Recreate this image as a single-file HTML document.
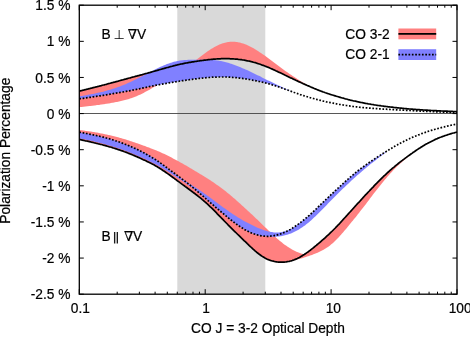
<!DOCTYPE html>
<html><head><meta charset="utf-8"><title>Polarization Percentage vs CO J = 3-2 Optical Depth</title>
<style>html,body{margin:0;padding:0;background:#fff}svg{display:block}text{stroke:#000;stroke-width:0.2px}text.par{stroke:none}</style></head>
<body>
<svg width="470" height="337" viewBox="0 0 470 337" font-family="'Liberation Sans', sans-serif" font-size="13.75" fill="#000">
<rect width="470" height="337" fill="#fff"/>
<rect x="177.3" y="5.2" width="88.0" height="289.0" fill="#d9d9d9"/>
<path d="M79.0,91.2 L80.0,91.0 L81.0,90.7 L82.0,90.5 L83.0,90.2 L84.0,89.9 L85.0,89.7 L86.0,89.4 L87.0,89.2 L88.0,88.9 L89.0,88.7 L90.0,88.4 L91.0,88.2 L92.0,87.9 L93.0,87.7 L94.0,87.4 L95.0,87.2 L96.0,86.9 L97.0,86.7 L98.0,86.4 L99.0,86.1 L100.0,85.9 L101.0,85.6 L102.0,85.4 L103.0,85.1 L104.0,84.9 L105.0,84.6 L106.0,84.3 L107.0,84.1 L108.0,83.8 L109.0,83.5 L110.0,83.3 L111.0,83.0 L112.0,82.8 L113.0,82.5 L114.0,82.2 L115.0,82.0 L116.0,81.7 L117.0,81.4 L118.0,81.1 L119.0,80.9 L120.0,80.6 L121.0,80.3 L122.0,80.0 L123.0,79.8 L124.0,79.5 L125.0,79.2 L126.0,78.9 L127.0,78.7 L128.0,78.4 L129.0,78.1 L130.0,77.8 L131.0,77.6 L132.0,77.3 L133.0,77.0 L134.0,76.8 L135.0,76.5 L136.0,76.2 L137.0,76.0 L138.0,75.7 L139.0,75.4 L140.0,75.2 L141.0,74.9 L142.0,74.6 L143.0,74.4 L144.0,74.1 L145.0,73.8 L146.0,73.6 L147.0,73.3 L148.0,73.0 L149.0,72.7 L150.0,72.4 L151.0,72.2 L152.0,71.9 L153.0,71.6 L154.0,71.3 L155.0,71.0 L156.0,70.7 L157.0,70.5 L158.0,70.2 L159.0,69.9 L160.0,69.6 L161.0,69.3 L162.0,69.0 L163.0,68.7 L164.0,68.5 L165.0,68.2 L166.0,67.9 L167.0,67.6 L168.0,67.3 L169.0,67.1 L170.0,66.8 L171.0,66.5 L172.0,66.3 L173.0,66.0 L174.0,65.7 L175.0,65.5 L176.0,65.2 L177.0,65.0 L178.0,64.8 L179.0,64.5 L180.0,64.3 L181.0,64.1 L182.0,63.9 L183.0,63.6 L184.0,63.4 L185.0,63.2 L186.0,63.0 L187.0,62.9 L188.0,62.7 L189.0,62.5 L190.0,62.3 L191.0,62.2 L192.0,62.0 L193.0,61.8 L194.0,61.7 L195.0,61.5 L196.0,61.4 L197.0,61.2 L198.0,61.1 L199.0,60.9 L200.0,60.8 L201.0,60.7 L202.0,60.5 L203.0,60.4 L204.0,60.3 L205.0,60.1 L206.0,60.0 L207.0,59.9 L208.0,59.8 L209.0,59.7 L210.0,59.6 L211.0,59.5 L212.0,59.4 L213.0,59.3 L214.0,59.2 L215.0,59.1 L216.0,59.0 L217.0,59.0 L218.0,58.9 L219.0,58.8 L220.0,58.8 L221.0,58.8 L222.0,58.7 L223.0,58.7 L224.0,58.7 L225.0,58.7 L226.0,58.7 L227.0,58.7 L228.0,58.7 L229.0,58.7 L230.0,58.7 L231.0,58.8 L232.0,58.8 L233.0,58.9 L234.0,59.0 L235.0,59.0 L236.0,59.1 L237.0,59.2 L238.0,59.3 L239.0,59.4 L240.0,59.6 L241.0,59.7 L242.0,59.8 L243.0,60.0 L244.0,60.1 L245.0,60.3 L246.0,60.5 L247.0,60.7 L248.0,60.9 L249.0,61.1 L250.0,61.3 L251.0,61.6 L252.0,61.8 L253.0,62.1 L254.0,62.4 L255.0,62.7 L256.0,63.0 L257.0,63.3 L258.0,63.6 L259.0,63.9 L260.0,64.2 L261.0,64.6 L262.0,64.9 L263.0,65.3 L264.0,65.7 L265.0,66.1 L266.0,66.5 L267.0,66.9 L268.0,67.3 L269.0,67.7 L270.0,68.1 L271.0,68.6 L272.0,69.0 L273.0,69.4 L274.0,69.9 L275.0,70.4 L276.0,70.8 L277.0,71.3 L278.0,71.8 L279.0,72.2 L280.0,72.7 L281.0,73.2 L282.0,73.7 L283.0,74.1 L284.0,74.6 L285.0,75.1 L286.0,75.6 L287.0,76.1 L288.0,76.6 L289.0,77.0 L290.0,77.5 L291.0,78.0 L292.0,78.5 L293.0,78.9 L294.0,79.4 L295.0,79.9 L296.0,80.3 L297.0,80.8 L298.0,81.3 L299.0,81.7 L300.0,82.2 L301.0,82.6 L302.0,83.1 L303.0,83.5 L304.0,84.0 L305.0,84.4 L306.0,84.9 L307.0,85.3 L308.0,85.8 L309.0,86.2 L309.0,86.1 L308.0,85.5 L307.0,84.9 L306.0,84.3 L305.0,83.7 L304.0,83.1 L303.0,82.5 L302.0,81.9 L301.0,81.3 L300.0,80.7 L299.0,80.0 L298.0,79.4 L297.0,78.8 L296.0,78.1 L295.0,77.5 L294.0,76.8 L293.0,76.2 L292.0,75.5 L291.0,74.8 L290.0,74.2 L289.0,73.5 L288.0,72.8 L287.0,72.1 L286.0,71.4 L285.0,70.7 L284.0,70.0 L283.0,69.3 L282.0,68.5 L281.0,67.8 L280.0,67.1 L279.0,66.3 L278.0,65.6 L277.0,64.8 L276.0,64.1 L275.0,63.3 L274.0,62.6 L273.0,61.8 L272.0,61.0 L271.0,60.3 L270.0,59.5 L269.0,58.8 L268.0,58.0 L267.0,57.3 L266.0,56.6 L265.0,55.8 L264.0,55.1 L263.0,54.4 L262.0,53.7 L261.0,53.1 L260.0,52.4 L259.0,51.7 L258.0,51.1 L257.0,50.4 L256.0,49.8 L255.0,49.2 L254.0,48.6 L253.0,48.0 L252.0,47.5 L251.0,47.0 L250.0,46.4 L249.0,45.9 L248.0,45.5 L247.0,45.0 L246.0,44.6 L245.0,44.2 L244.0,43.8 L243.0,43.5 L242.0,43.2 L241.0,42.9 L240.0,42.6 L239.0,42.4 L238.0,42.2 L237.0,42.0 L236.0,41.9 L235.0,41.8 L234.0,41.8 L233.0,41.7 L232.0,41.7 L231.0,41.8 L230.0,41.8 L229.0,42.0 L228.0,42.1 L227.0,42.3 L226.0,42.5 L225.0,42.7 L224.0,43.0 L223.0,43.3 L222.0,43.6 L221.0,43.9 L220.0,44.3 L219.0,44.7 L218.0,45.2 L217.0,45.7 L216.0,46.2 L215.0,46.7 L214.0,47.3 L213.0,47.9 L212.0,48.5 L211.0,49.1 L210.0,49.8 L209.0,50.4 L208.0,51.1 L207.0,51.8 L206.0,52.5 L205.0,53.3 L204.0,54.0 L203.0,54.8 L202.0,55.5 L201.0,56.3 L200.0,57.1 L199.0,57.8 L198.0,58.6 L197.0,59.3 L196.0,60.1 L195.0,60.8 L194.0,61.6 L193.0,62.3 L192.0,63.0 L191.0,63.8 L190.0,64.5 L189.0,65.2 L188.0,65.9 L187.0,66.5 L186.0,67.2 L185.0,67.9 L184.0,68.6 L183.0,69.2 L182.0,69.9 L181.0,70.5 L180.0,71.1 L179.0,71.8 L178.0,72.4 L177.0,73.0 L176.0,73.7 L175.0,74.3 L174.0,74.9 L173.0,75.5 L172.0,76.1 L171.0,76.8 L170.0,77.4 L169.0,78.0 L168.0,78.6 L167.0,79.2 L166.0,79.8 L165.0,80.4 L164.0,81.0 L163.0,81.7 L162.0,82.3 L161.0,82.9 L160.0,83.5 L159.0,84.1 L158.0,84.7 L157.0,85.3 L156.0,85.9 L155.0,86.5 L154.0,87.1 L153.0,87.6 L152.0,88.2 L151.0,88.8 L150.0,89.4 L149.0,90.0 L148.0,90.5 L147.0,91.1 L146.0,91.6 L145.0,92.1 L144.0,92.7 L143.0,93.2 L142.0,93.7 L141.0,94.2 L140.0,94.7 L139.0,95.1 L138.0,95.6 L137.0,96.0 L136.0,96.4 L135.0,96.8 L134.0,97.2 L133.0,97.6 L132.0,97.9 L131.0,98.3 L130.0,98.6 L129.0,98.9 L128.0,99.2 L127.0,99.5 L126.0,99.8 L125.0,100.0 L124.0,100.3 L123.0,100.5 L122.0,100.8 L121.0,101.0 L120.0,101.2 L119.0,101.5 L118.0,101.7 L117.0,101.9 L116.0,102.1 L115.0,102.3 L114.0,102.5 L113.0,102.7 L112.0,102.8 L111.0,103.0 L110.0,103.2 L109.0,103.4 L108.0,103.5 L107.0,103.7 L106.0,103.8 L105.0,104.0 L104.0,104.2 L103.0,104.3 L102.0,104.5 L101.0,104.6 L100.0,104.7 L99.0,104.9 L98.0,105.0 L97.0,105.1 L96.0,105.3 L95.0,105.4 L94.0,105.5 L93.0,105.7 L92.0,105.8 L91.0,105.9 L90.0,106.0 L89.0,106.1 L88.0,106.2 L87.0,106.3 L86.0,106.4 L85.0,106.6 L84.0,106.7 L83.0,106.8 L82.0,106.9 L81.0,107.0 L80.0,107.1 L79.0,107.2Z" fill="#ff8080"/>
<path d="M79.0,129.9 L80.0,130.1 L81.0,130.2 L82.0,130.3 L83.0,130.5 L84.0,130.6 L85.0,130.8 L86.0,130.9 L87.0,131.0 L88.0,131.2 L89.0,131.3 L90.0,131.5 L91.0,131.6 L92.0,131.8 L93.0,132.0 L94.0,132.1 L95.0,132.3 L96.0,132.5 L97.0,132.6 L98.0,132.8 L99.0,133.0 L100.0,133.2 L101.0,133.4 L102.0,133.6 L103.0,133.8 L104.0,134.0 L105.0,134.2 L106.0,134.4 L107.0,134.6 L108.0,134.9 L109.0,135.1 L110.0,135.3 L111.0,135.5 L112.0,135.8 L113.0,136.0 L114.0,136.3 L115.0,136.5 L116.0,136.8 L117.0,137.0 L118.0,137.3 L119.0,137.6 L120.0,137.9 L121.0,138.1 L122.0,138.4 L123.0,138.7 L124.0,139.0 L125.0,139.3 L126.0,139.6 L127.0,139.9 L128.0,140.2 L129.0,140.6 L130.0,140.9 L131.0,141.2 L132.0,141.5 L133.0,141.9 L134.0,142.2 L135.0,142.6 L136.0,142.9 L137.0,143.2 L138.0,143.6 L139.0,144.0 L140.0,144.3 L141.0,144.7 L142.0,145.0 L143.0,145.4 L144.0,145.8 L145.0,146.1 L146.0,146.5 L147.0,146.9 L148.0,147.3 L149.0,147.6 L150.0,148.0 L151.0,148.4 L152.0,148.8 L153.0,149.2 L154.0,149.6 L155.0,149.9 L156.0,150.3 L157.0,150.8 L158.0,151.2 L159.0,151.6 L160.0,152.0 L161.0,152.5 L162.0,152.9 L163.0,153.4 L164.0,153.8 L165.0,154.3 L166.0,154.8 L167.0,155.3 L168.0,155.8 L169.0,156.3 L170.0,156.8 L171.0,157.3 L172.0,157.8 L173.0,158.4 L174.0,158.9 L175.0,159.4 L176.0,160.0 L177.0,160.5 L178.0,161.1 L179.0,161.6 L180.0,162.2 L181.0,162.7 L182.0,163.3 L183.0,163.8 L184.0,164.4 L185.0,164.9 L186.0,165.5 L187.0,166.1 L188.0,166.7 L189.0,167.3 L190.0,167.9 L191.0,168.5 L192.0,169.1 L193.0,169.7 L194.0,170.3 L195.0,170.9 L196.0,171.5 L197.0,172.1 L198.0,172.7 L199.0,173.3 L200.0,173.9 L201.0,174.5 L202.0,175.1 L203.0,175.7 L204.0,176.3 L205.0,176.9 L206.0,177.6 L207.0,178.2 L208.0,178.8 L209.0,179.5 L210.0,180.1 L211.0,180.8 L212.0,181.4 L213.0,182.1 L214.0,182.8 L215.0,183.5 L216.0,184.2 L217.0,184.9 L218.0,185.6 L219.0,186.3 L220.0,187.1 L221.0,187.8 L222.0,188.5 L223.0,189.3 L224.0,190.1 L225.0,190.8 L226.0,191.6 L227.0,192.4 L228.0,193.2 L229.0,194.0 L230.0,194.8 L231.0,195.7 L232.0,196.5 L233.0,197.4 L234.0,198.2 L235.0,199.1 L236.0,200.0 L237.0,200.9 L238.0,201.8 L239.0,202.7 L240.0,203.6 L241.0,204.5 L242.0,205.4 L243.0,206.3 L244.0,207.2 L245.0,208.2 L246.0,209.1 L247.0,210.0 L248.0,210.9 L249.0,211.8 L250.0,212.7 L251.0,213.7 L252.0,214.6 L253.0,215.5 L254.0,216.5 L255.0,217.4 L256.0,218.4 L257.0,219.3 L258.0,220.3 L259.0,221.3 L260.0,222.2 L261.0,223.2 L262.0,224.2 L263.0,225.2 L264.0,226.2 L265.0,227.2 L266.0,228.1 L267.0,229.1 L268.0,230.1 L269.0,231.0 L270.0,232.0 L271.0,232.9 L272.0,233.9 L273.0,234.8 L274.0,235.7 L275.0,236.6 L276.0,237.5 L277.0,238.4 L278.0,239.3 L279.0,240.2 L280.0,241.0 L281.0,241.8 L282.0,242.6 L283.0,243.4 L284.0,244.2 L285.0,244.9 L286.0,245.6 L287.0,246.3 L288.0,247.0 L289.0,247.6 L290.0,248.3 L291.0,248.8 L292.0,249.4 L293.0,249.9 L294.0,250.5 L295.0,250.9 L296.0,251.4 L297.0,251.9 L298.0,252.3 L299.0,252.7 L300.0,253.1 L301.0,253.4 L302.0,253.8 L303.0,254.1 L304.0,254.4 L305.0,254.0 L306.0,253.3 L307.0,252.6 L308.0,251.9 L309.0,251.2 L310.0,250.4 L311.0,249.6 L312.0,248.9 L313.0,248.1 L314.0,247.3 L315.0,246.4 L316.0,245.6 L317.0,244.8 L318.0,243.9 L319.0,243.1 L320.0,242.2 L321.0,241.4 L322.0,240.5 L323.0,239.6 L324.0,238.7 L325.0,237.8 L326.0,236.9 L327.0,236.0 L328.0,235.1 L329.0,234.2 L330.0,233.2 L331.0,232.2 L332.0,231.3 L333.0,230.3 L334.0,229.3 L335.0,228.3 L336.0,227.2 L337.0,226.2 L338.0,225.2 L339.0,224.1 L340.0,223.0 L341.0,221.9 L342.0,220.9 L343.0,219.8 L344.0,218.7 L345.0,217.6 L346.0,216.5 L347.0,215.3 L348.0,214.2 L349.0,213.1 L350.0,212.0 L351.0,210.9 L352.0,209.8 L353.0,208.7 L354.0,207.6 L355.0,206.5 L356.0,205.4 L357.0,204.3 L358.0,203.2 L359.0,202.1 L360.0,201.0 L361.0,199.9 L362.0,198.8 L363.0,197.7 L364.0,196.6 L365.0,195.6 L366.0,194.5 L367.0,193.4 L368.0,192.4 L369.0,191.3 L370.0,190.2 L371.0,189.2 L372.0,188.1 L373.0,187.1 L374.0,186.0 L375.0,185.0 L376.0,184.0 L377.0,182.9 L378.0,181.9 L379.0,180.9 L380.0,179.9 L381.0,178.9 L382.0,177.9 L383.0,177.0 L384.0,176.0 L385.0,175.0 L386.0,174.1 L387.0,173.2 L388.0,172.3 L389.0,171.3 L390.0,170.5 L391.0,169.6 L392.0,168.7 L393.0,167.8 L394.0,167.0 L395.0,166.2 L396.0,165.3 L397.0,164.5 L398.0,163.7 L399.0,162.9 L400.0,162.2 L401.0,161.4 L402.0,160.6 L403.0,159.8 L404.0,159.1 L405.0,158.3 L406.0,157.6 L407.0,156.9 L408.0,156.1 L409.0,155.4 L410.0,154.7 L411.0,154.0 L411.0,154.4 L410.0,155.2 L409.0,156.0 L408.0,156.9 L407.0,157.7 L406.0,158.5 L405.0,159.4 L404.0,160.2 L403.0,161.1 L402.0,162.0 L401.0,162.9 L400.0,163.8 L399.0,164.7 L398.0,165.6 L397.0,166.6 L396.0,167.6 L395.0,168.6 L394.0,169.6 L393.0,170.6 L392.0,171.7 L391.0,172.7 L390.0,173.8 L389.0,174.9 L388.0,176.1 L387.0,177.2 L386.0,178.4 L385.0,179.6 L384.0,180.8 L383.0,182.0 L382.0,183.2 L381.0,184.4 L380.0,185.7 L379.0,186.9 L378.0,188.2 L377.0,189.4 L376.0,190.7 L375.0,192.0 L374.0,193.3 L373.0,194.6 L372.0,195.9 L371.0,197.3 L370.0,198.6 L369.0,199.9 L368.0,201.2 L367.0,202.6 L366.0,203.9 L365.0,205.2 L364.0,206.5 L363.0,207.8 L362.0,209.1 L361.0,210.3 L360.0,211.6 L359.0,212.9 L358.0,214.1 L357.0,215.4 L356.0,216.7 L355.0,217.9 L354.0,219.1 L353.0,220.4 L352.0,221.6 L351.0,222.8 L350.0,224.1 L349.0,225.3 L348.0,226.5 L347.0,227.7 L346.0,228.9 L345.0,230.1 L344.0,231.3 L343.0,232.4 L342.0,233.6 L341.0,234.7 L340.0,235.8 L339.0,236.9 L338.0,238.0 L337.0,239.0 L336.0,240.0 L335.0,241.0 L334.0,242.0 L333.0,242.9 L332.0,243.8 L331.0,244.6 L330.0,245.4 L329.0,246.2 L328.0,246.9 L327.0,247.6 L326.0,248.2 L325.0,248.8 L324.0,249.4 L323.0,250.0 L322.0,250.5 L321.0,251.1 L320.0,251.5 L319.0,252.0 L318.0,252.5 L317.0,252.9 L316.0,253.3 L315.0,253.7 L314.0,254.1 L313.0,254.5 L312.0,254.9 L311.0,255.2 L310.0,255.6 L309.0,255.9 L308.0,256.3 L307.0,256.6 L306.0,256.9 L305.0,257.2 L304.0,257.5 L303.0,257.9 L302.0,258.2 L301.0,258.5 L300.0,258.8 L299.0,259.0 L298.0,259.3 L297.0,259.6 L296.0,259.9 L295.0,260.1 L294.0,260.4 L293.0,260.6 L292.0,260.9 L291.0,261.1 L290.0,261.3 L289.0,261.4 L288.0,261.6 L287.0,261.7 L286.0,261.9 L285.0,262.0 L284.0,262.1 L283.0,262.2 L282.0,262.2 L281.0,262.2 L280.0,262.2 L279.0,262.1 L278.0,262.0 L277.0,261.9 L276.0,261.8 L275.0,261.6 L274.0,261.4 L273.0,261.2 L272.0,260.9 L271.0,260.6 L270.0,260.3 L269.0,259.9 L268.0,259.5 L267.0,259.0 L266.0,258.5 L265.0,258.0 L264.0,257.5 L263.0,256.9 L262.0,256.2 L261.0,255.5 L260.0,254.8 L259.0,254.1 L258.0,253.3 L257.0,252.5 L256.0,251.7 L255.0,250.8 L254.0,249.9 L253.0,249.0 L252.0,248.1 L251.0,247.2 L250.0,246.3 L249.0,245.3 L248.0,244.3 L247.0,243.4 L246.0,242.4 L245.0,241.4 L244.0,240.5 L243.0,239.5 L242.0,238.5 L241.0,237.6 L240.0,236.6 L239.0,235.6 L238.0,234.7 L237.0,233.7 L236.0,232.7 L235.0,231.7 L234.0,230.8 L233.0,229.8 L232.0,228.8 L231.0,227.8 L230.0,226.8 L229.0,225.8 L228.0,224.7 L227.0,223.7 L226.0,222.7 L225.0,221.7 L224.0,220.7 L223.0,219.6 L222.0,218.6 L221.0,217.6 L220.0,216.5 L219.0,215.5 L218.0,214.5 L217.0,213.4 L216.0,212.4 L215.0,211.4 L214.0,210.4 L213.0,209.4 L212.0,208.4 L211.0,207.4 L210.0,206.5 L209.0,205.5 L208.0,204.6 L207.0,203.7 L206.0,202.8 L205.0,201.9 L204.0,201.0 L203.0,200.2 L202.0,199.3 L201.0,198.5 L200.0,197.7 L199.0,196.9 L198.0,196.1 L197.0,195.3 L196.0,194.5 L195.0,193.8 L194.0,193.0 L193.0,192.2 L192.0,191.5 L191.0,190.8 L190.0,190.0 L189.0,189.3 L188.0,188.6 L187.0,187.8 L186.0,187.1 L185.0,186.4 L184.0,185.6 L183.0,184.9 L182.0,184.1 L181.0,183.4 L180.0,182.7 L179.0,181.9 L178.0,181.2 L177.0,180.4 L176.0,179.7 L175.0,179.0 L174.0,178.2 L173.0,177.5 L172.0,176.8 L171.0,176.0 L170.0,175.3 L169.0,174.6 L168.0,173.9 L167.0,173.2 L166.0,172.5 L165.0,171.8 L164.0,171.1 L163.0,170.5 L162.0,169.8 L161.0,169.1 L160.0,168.5 L159.0,167.9 L158.0,167.3 L157.0,166.7 L156.0,166.1 L155.0,165.5 L154.0,165.0 L153.0,164.4 L152.0,163.9 L151.0,163.4 L150.0,162.9 L149.0,162.4 L148.0,161.9 L147.0,161.4 L146.0,160.9 L145.0,160.5 L144.0,160.0 L143.0,159.5 L142.0,159.1 L141.0,158.6 L140.0,158.1 L139.0,157.7 L138.0,157.2 L137.0,156.8 L136.0,156.4 L135.0,155.9 L134.0,155.5 L133.0,155.1 L132.0,154.7 L131.0,154.2 L130.0,153.8 L129.0,153.4 L128.0,153.1 L127.0,152.7 L126.0,152.3 L125.0,151.9 L124.0,151.5 L123.0,151.2 L122.0,150.8 L121.0,150.5 L120.0,150.1 L119.0,149.8 L118.0,149.5 L117.0,149.1 L116.0,148.8 L115.0,148.5 L114.0,148.2 L113.0,147.9 L112.0,147.6 L111.0,147.3 L110.0,147.0 L109.0,146.7 L108.0,146.4 L107.0,146.1 L106.0,145.8 L105.0,145.5 L104.0,145.3 L103.0,145.0 L102.0,144.7 L101.0,144.5 L100.0,144.2 L99.0,143.9 L98.0,143.7 L97.0,143.4 L96.0,143.2 L95.0,142.9 L94.0,142.7 L93.0,142.5 L92.0,142.2 L91.0,142.0 L90.0,141.8 L89.0,141.6 L88.0,141.3 L87.0,141.1 L86.0,140.9 L85.0,140.7 L84.0,140.5 L83.0,140.3 L82.0,140.1 L81.0,139.8 L80.0,139.6 L79.0,139.4Z" fill="#ff8080"/>
<path d="M79.0,98.9 L80.0,98.8 L81.0,98.6 L82.0,98.5 L83.0,98.3 L84.0,98.2 L85.0,98.1 L86.0,97.9 L87.0,97.8 L88.0,97.6 L89.0,97.5 L90.0,97.3 L91.0,97.2 L92.0,97.0 L93.0,96.9 L94.0,96.7 L95.0,96.6 L96.0,96.4 L97.0,96.3 L98.0,96.1 L99.0,96.0 L100.0,95.8 L101.0,95.6 L102.0,95.5 L103.0,95.3 L104.0,95.2 L105.0,95.0 L106.0,94.8 L107.0,94.7 L108.0,94.5 L109.0,94.3 L110.0,94.2 L111.0,94.0 L112.0,93.8 L113.0,93.7 L114.0,93.5 L115.0,93.3 L116.0,93.2 L117.0,93.0 L118.0,92.8 L119.0,92.6 L120.0,92.5 L121.0,92.3 L122.0,92.1 L123.0,91.9 L124.0,91.7 L125.0,91.6 L126.0,91.4 L127.0,91.2 L128.0,91.0 L129.0,90.8 L130.0,90.6 L131.0,90.4 L132.0,90.2 L133.0,90.0 L134.0,89.8 L135.0,89.6 L136.0,89.4 L137.0,89.2 L138.0,89.0 L139.0,88.8 L140.0,88.6 L141.0,88.4 L142.0,88.2 L143.0,88.0 L144.0,87.8 L145.0,87.5 L146.0,87.3 L147.0,87.1 L148.0,86.9 L149.0,86.7 L150.0,86.5 L151.0,86.3 L152.0,86.1 L153.0,85.9 L154.0,85.7 L155.0,85.5 L156.0,85.3 L157.0,85.1 L158.0,84.9 L159.0,84.7 L160.0,84.5 L161.0,84.3 L162.0,84.2 L163.0,84.0 L164.0,83.8 L165.0,83.6 L166.0,83.4 L167.0,83.2 L168.0,83.1 L169.0,82.9 L170.0,82.7 L171.0,82.5 L172.0,82.4 L173.0,82.2 L174.0,82.0 L175.0,81.9 L176.0,81.7 L177.0,81.5 L178.0,81.4 L179.0,81.2 L180.0,81.1 L181.0,80.9 L182.0,80.8 L183.0,80.6 L184.0,80.5 L185.0,80.3 L186.0,80.2 L187.0,80.0 L188.0,79.9 L189.0,79.7 L190.0,79.6 L191.0,79.5 L192.0,79.3 L193.0,79.2 L194.0,79.1 L195.0,78.9 L196.0,78.8 L197.0,78.7 L198.0,78.6 L199.0,78.4 L200.0,78.3 L201.0,78.2 L202.0,78.1 L203.0,78.0 L204.0,77.9 L205.0,77.8 L206.0,77.7 L207.0,77.6 L208.0,77.6 L209.0,77.5 L210.0,77.4 L211.0,77.3 L212.0,77.3 L213.0,77.2 L214.0,77.2 L215.0,77.1 L216.0,77.1 L217.0,77.0 L218.0,77.0 L219.0,77.0 L220.0,77.0 L221.0,77.0 L222.0,77.0 L223.0,77.0 L224.0,77.0 L225.0,77.0 L226.0,77.0 L227.0,77.1 L228.0,77.1 L229.0,77.2 L230.0,77.2 L231.0,77.3 L232.0,77.4 L233.0,77.4 L234.0,77.5 L235.0,77.6 L236.0,77.7 L237.0,77.8 L238.0,77.9 L239.0,78.0 L240.0,78.1 L241.0,78.3 L242.0,78.4 L243.0,78.5 L244.0,78.7 L245.0,78.8 L246.0,79.0 L247.0,79.1 L248.0,79.3 L249.0,79.5 L250.0,79.6 L251.0,79.8 L252.0,80.0 L253.0,80.2 L254.0,80.4 L255.0,80.6 L256.0,80.8 L257.0,81.0 L258.0,81.2 L259.0,81.4 L260.0,81.6 L261.0,81.9 L262.0,82.1 L263.0,82.3 L264.0,82.6 L265.0,82.8 L266.0,83.1 L267.0,83.3 L268.0,83.6 L269.0,83.9 L270.0,84.2 L271.0,84.5 L272.0,84.8 L273.0,85.1 L274.0,85.4 L275.0,85.7 L276.0,86.0 L277.0,86.4 L278.0,86.7 L279.0,87.0 L280.0,87.4 L281.0,87.7 L282.0,88.1 L283.0,88.4 L284.0,88.8 L285.0,89.1 L286.0,89.5 L287.0,89.9 L288.0,90.2 L289.0,90.6 L290.0,90.9 L291.0,91.3 L292.0,91.7 L293.0,92.0 L294.0,92.4 L295.0,92.7 L295.0,93.0 L294.0,92.6 L293.0,92.1 L292.0,91.6 L291.0,91.2 L290.0,90.7 L289.0,90.3 L288.0,89.8 L287.0,89.4 L286.0,88.9 L285.0,88.4 L284.0,88.0 L283.0,87.5 L282.0,87.0 L281.0,86.6 L280.0,86.1 L279.0,85.7 L278.0,85.2 L277.0,84.7 L276.0,84.2 L275.0,83.8 L274.0,83.3 L273.0,82.8 L272.0,82.3 L271.0,81.8 L270.0,81.3 L269.0,80.8 L268.0,80.4 L267.0,79.9 L266.0,79.4 L265.0,78.9 L264.0,78.4 L263.0,77.9 L262.0,77.4 L261.0,76.8 L260.0,76.3 L259.0,75.8 L258.0,75.4 L257.0,74.9 L256.0,74.4 L255.0,73.9 L254.0,73.4 L253.0,72.9 L252.0,72.4 L251.0,72.0 L250.0,71.5 L249.0,71.0 L248.0,70.6 L247.0,70.1 L246.0,69.7 L245.0,69.2 L244.0,68.8 L243.0,68.4 L242.0,67.9 L241.0,67.5 L240.0,67.1 L239.0,66.7 L238.0,66.3 L237.0,65.9 L236.0,65.5 L235.0,65.2 L234.0,64.8 L233.0,64.5 L232.0,64.1 L231.0,63.8 L230.0,63.4 L229.0,63.1 L228.0,62.8 L227.0,62.5 L226.0,62.2 L225.0,62.0 L224.0,61.7 L223.0,61.5 L222.0,61.3 L221.0,61.1 L220.0,60.9 L219.0,60.7 L218.0,60.5 L217.0,60.4 L216.0,60.3 L215.0,60.2 L214.0,60.1 L213.0,60.0 L212.0,59.9 L211.0,59.9 L210.0,59.8 L209.0,59.8 L208.0,59.8 L207.0,59.7 L206.0,59.7 L205.0,59.7 L204.0,59.7 L203.0,59.7 L202.0,59.7 L201.0,59.7 L200.0,59.7 L199.0,59.7 L198.0,59.7 L197.0,59.7 L196.0,59.7 L195.0,59.7 L194.0,59.7 L193.0,59.7 L192.0,59.7 L191.0,59.7 L190.0,59.8 L189.0,59.8 L188.0,59.8 L187.0,59.9 L186.0,59.9 L185.0,60.0 L184.0,60.1 L183.0,60.2 L182.0,60.3 L181.0,60.5 L180.0,60.6 L179.0,60.8 L178.0,60.9 L177.0,61.1 L176.0,61.4 L175.0,61.6 L174.0,61.8 L173.0,62.1 L172.0,62.4 L171.0,62.7 L170.0,63.0 L169.0,63.4 L168.0,63.7 L167.0,64.1 L166.0,64.5 L165.0,64.9 L164.0,65.3 L163.0,65.7 L162.0,66.2 L161.0,66.6 L160.0,67.1 L159.0,67.6 L158.0,68.1 L157.0,68.6 L156.0,69.1 L155.0,69.6 L154.0,70.1 L153.0,70.6 L152.0,71.1 L151.0,71.6 L150.0,72.1 L149.0,72.6 L148.0,73.1 L147.0,73.6 L146.0,74.2 L145.0,74.7 L144.0,75.2 L143.0,75.7 L142.0,76.2 L141.0,76.7 L140.0,77.2 L139.0,77.7 L138.0,78.2 L137.0,78.7 L136.0,79.2 L135.0,79.7 L134.0,80.2 L133.0,80.7 L132.0,81.2 L131.0,81.7 L130.0,82.2 L129.0,82.6 L128.0,83.1 L127.0,83.5 L126.0,84.0 L125.0,84.4 L124.0,84.8 L123.0,85.2 L122.0,85.6 L121.0,86.0 L120.0,86.4 L119.0,86.8 L118.0,87.1 L117.0,87.5 L116.0,87.8 L115.0,88.2 L114.0,88.5 L113.0,88.8 L112.0,89.1 L111.0,89.4 L110.0,89.7 L109.0,90.0 L108.0,90.3 L107.0,90.6 L106.0,90.9 L105.0,91.1 L104.0,91.4 L103.0,91.7 L102.0,91.9 L101.0,92.1 L100.0,92.4 L99.0,92.6 L98.0,92.8 L97.0,93.1 L96.0,93.3 L95.0,93.5 L94.0,93.7 L93.0,93.9 L92.0,94.1 L91.0,94.3 L90.0,94.5 L89.0,94.6 L88.0,94.8 L87.0,95.0 L86.0,95.2 L85.0,95.4 L84.0,95.5 L83.0,95.7 L82.0,95.9 L81.0,96.0 L80.0,96.2 L79.0,96.4Z" fill="#8080ff"/>
<path d="M79.0,132.1 L80.0,132.3 L81.0,132.5 L82.0,132.7 L83.0,132.9 L84.0,133.1 L85.0,133.2 L86.0,133.4 L87.0,133.6 L88.0,133.8 L89.0,134.0 L90.0,134.2 L91.0,134.4 L92.0,134.6 L93.0,134.8 L94.0,135.0 L95.0,135.3 L96.0,135.5 L97.0,135.7 L98.0,135.9 L99.0,136.2 L100.0,136.4 L101.0,136.6 L102.0,136.9 L103.0,137.1 L104.0,137.4 L105.0,137.6 L106.0,137.9 L107.0,138.2 L108.0,138.5 L109.0,138.7 L110.0,139.0 L111.0,139.3 L112.0,139.6 L113.0,139.9 L114.0,140.2 L115.0,140.6 L116.0,140.9 L117.0,141.2 L118.0,141.6 L119.0,141.9 L120.0,142.3 L121.0,142.6 L122.0,143.0 L123.0,143.4 L124.0,143.7 L125.0,144.1 L126.0,144.5 L127.0,144.9 L128.0,145.2 L129.0,145.6 L130.0,146.0 L131.0,146.5 L132.0,146.9 L133.0,147.3 L134.0,147.7 L135.0,148.1 L136.0,148.6 L137.0,149.0 L138.0,149.5 L139.0,149.9 L140.0,150.4 L141.0,150.9 L142.0,151.4 L143.0,151.9 L144.0,152.4 L145.0,152.9 L146.0,153.4 L147.0,154.0 L148.0,154.5 L149.0,155.1 L150.0,155.7 L151.0,156.3 L152.0,156.9 L153.0,157.5 L154.0,158.1 L155.0,158.8 L156.0,159.5 L157.0,160.2 L158.0,160.9 L159.0,161.6 L160.0,162.4 L161.0,163.1 L162.0,163.9 L163.0,164.6 L164.0,165.4 L165.0,166.2 L166.0,167.0 L167.0,167.7 L168.0,168.5 L169.0,169.3 L170.0,170.0 L171.0,170.8 L172.0,171.5 L173.0,172.2 L174.0,173.0 L175.0,173.7 L176.0,174.4 L177.0,175.2 L178.0,175.9 L179.0,176.6 L180.0,177.3 L181.0,178.0 L182.0,178.7 L183.0,179.4 L184.0,180.1 L185.0,180.8 L186.0,181.4 L187.0,182.1 L188.0,182.7 L189.0,183.4 L190.0,184.0 L191.0,184.6 L192.0,185.3 L193.0,185.9 L194.0,186.6 L195.0,187.2 L196.0,187.8 L197.0,188.5 L198.0,189.1 L199.0,189.8 L200.0,190.5 L201.0,191.1 L202.0,191.8 L203.0,192.5 L204.0,193.2 L205.0,193.9 L206.0,194.6 L207.0,195.4 L208.0,196.1 L209.0,196.8 L210.0,197.5 L211.0,198.3 L212.0,199.0 L213.0,199.8 L214.0,200.5 L215.0,201.3 L216.0,202.0 L217.0,202.7 L218.0,203.5 L219.0,204.2 L220.0,205.0 L221.0,205.7 L222.0,206.4 L223.0,207.2 L224.0,207.9 L225.0,208.6 L226.0,209.3 L227.0,210.1 L228.0,210.8 L229.0,211.5 L230.0,212.2 L231.0,212.8 L232.0,213.5 L233.0,214.2 L234.0,214.8 L235.0,215.5 L236.0,216.1 L237.0,216.8 L238.0,217.4 L239.0,218.0 L240.0,218.6 L241.0,219.2 L242.0,219.8 L243.0,220.4 L244.0,220.9 L245.0,221.5 L246.0,222.0 L247.0,222.6 L248.0,223.1 L249.0,223.6 L250.0,224.1 L251.0,224.6 L252.0,225.1 L253.0,225.6 L254.0,226.1 L255.0,226.6 L256.0,227.0 L257.0,227.5 L258.0,227.9 L259.0,228.3 L260.0,228.7 L261.0,229.1 L262.0,229.5 L263.0,229.8 L264.0,230.2 L265.0,230.5 L266.0,230.8 L267.0,231.1 L268.0,231.4 L269.0,231.6 L270.0,231.8 L271.0,232.0 L272.0,232.1 L273.0,232.3 L274.0,232.4 L275.0,232.5 L276.0,232.5 L277.0,232.5 L278.0,232.5 L279.0,232.4 L280.0,232.3 L281.0,232.2 L282.0,232.0 L283.0,231.8 L284.0,231.6 L285.0,231.3 L286.0,231.0 L287.0,230.7 L288.0,230.3 L289.0,229.9 L290.0,229.5 L291.0,228.9 L292.0,228.3 L293.0,227.7 L294.0,227.1 L295.0,226.4 L296.0,225.7 L297.0,225.0 L298.0,224.3 L299.0,223.5 L300.0,222.8 L301.0,222.0 L302.0,221.3 L303.0,220.5 L304.0,219.7 L305.0,218.9 L306.0,218.1 L307.0,217.2 L308.0,216.4 L309.0,215.5 L310.0,214.7 L311.0,213.8 L312.0,212.9 L313.0,211.9 L314.0,211.0 L315.0,210.0 L316.0,209.1 L317.0,208.1 L318.0,207.1 L319.0,206.2 L320.0,205.2 L321.0,204.2 L322.0,203.3 L323.0,202.3 L324.0,201.4 L325.0,200.4 L326.0,199.4 L327.0,198.5 L328.0,197.6 L329.0,196.6 L330.0,195.7 L331.0,194.7 L332.0,193.8 L333.0,192.9 L334.0,191.9 L335.0,191.0 L336.0,190.1 L337.0,189.2 L338.0,188.2 L339.0,187.3 L340.0,186.4 L341.0,185.5 L342.0,184.6 L343.0,183.6 L344.0,182.7 L345.0,181.8 L346.0,180.9 L347.0,180.0 L348.0,179.1 L349.0,178.2 L350.0,177.4 L351.0,176.5 L352.0,175.7 L353.0,174.8 L354.0,174.0 L355.0,173.2 L356.0,172.4 L357.0,171.6 L358.0,170.8 L359.0,170.0 L360.0,169.2 L361.0,168.5 L362.0,167.7 L363.0,167.0 L364.0,166.2 L365.0,165.5 L366.0,164.8 L367.0,164.1 L368.0,163.4 L369.0,162.7 L370.0,162.0 L371.0,161.3 L372.0,160.6 L373.0,160.0 L374.0,159.3 L375.0,158.6 L376.0,158.0 L377.0,157.3 L378.0,156.7 L379.0,156.0 L380.0,155.4 L381.0,154.7 L382.0,154.1 L383.0,153.5 L384.0,152.8 L385.0,152.2 L386.0,151.6 L386.0,152.2 L385.0,153.0 L384.0,153.7 L383.0,154.5 L382.0,155.3 L381.0,156.0 L380.0,156.8 L379.0,157.6 L378.0,158.3 L377.0,159.1 L376.0,159.9 L375.0,160.7 L374.0,161.4 L373.0,162.2 L372.0,163.0 L371.0,163.8 L370.0,164.6 L369.0,165.5 L368.0,166.3 L367.0,167.1 L366.0,167.9 L365.0,168.8 L364.0,169.6 L363.0,170.5 L362.0,171.3 L361.0,172.2 L360.0,173.0 L359.0,173.9 L358.0,174.8 L357.0,175.6 L356.0,176.5 L355.0,177.4 L354.0,178.3 L353.0,179.2 L352.0,180.1 L351.0,181.1 L350.0,182.0 L349.0,182.9 L348.0,183.9 L347.0,184.8 L346.0,185.8 L345.0,186.7 L344.0,187.7 L343.0,188.6 L342.0,189.6 L341.0,190.6 L340.0,191.6 L339.0,192.6 L338.0,193.5 L337.0,194.5 L336.0,195.5 L335.0,196.5 L334.0,197.5 L333.0,198.6 L332.0,199.6 L331.0,200.6 L330.0,201.6 L329.0,202.6 L328.0,203.6 L327.0,204.7 L326.0,205.7 L325.0,206.7 L324.0,207.7 L323.0,208.7 L322.0,209.7 L321.0,210.8 L320.0,211.8 L319.0,212.8 L318.0,213.8 L317.0,214.7 L316.0,215.7 L315.0,216.7 L314.0,217.6 L313.0,218.6 L312.0,219.5 L311.0,220.4 L310.0,221.3 L309.0,222.2 L308.0,223.0 L307.0,223.8 L306.0,224.6 L305.0,225.4 L304.0,226.1 L303.0,226.8 L302.0,227.5 L301.0,228.1 L300.0,228.8 L299.0,229.4 L298.0,230.0 L297.0,230.5 L296.0,231.1 L295.0,231.6 L294.0,232.1 L293.0,232.5 L292.0,233.0 L291.0,233.4 L290.0,233.8 L289.0,234.1 L288.0,234.5 L287.0,234.8 L286.0,235.1 L285.0,235.3 L284.0,235.6 L283.0,235.8 L282.0,236.0 L281.0,236.2 L280.0,236.3 L279.0,236.4 L278.0,236.5 L277.0,236.6 L276.0,236.7 L275.0,236.7 L274.0,236.7 L273.0,236.7 L272.0,236.7 L271.0,236.6 L270.0,236.6 L269.0,236.5 L268.0,236.4 L267.0,236.3 L266.0,236.3 L265.0,236.2 L264.0,236.1 L263.0,236.0 L262.0,235.9 L261.0,235.8 L260.0,235.6 L259.0,235.4 L258.0,235.1 L257.0,234.9 L256.0,234.6 L255.0,234.3 L254.0,233.9 L253.0,233.5 L252.0,233.2 L251.0,232.7 L250.0,232.3 L249.0,231.8 L248.0,231.3 L247.0,230.8 L246.0,230.3 L245.0,229.7 L244.0,229.1 L243.0,228.5 L242.0,227.9 L241.0,227.3 L240.0,226.6 L239.0,225.9 L238.0,225.2 L237.0,224.5 L236.0,223.8 L235.0,223.1 L234.0,222.4 L233.0,221.7 L232.0,220.9 L231.0,220.2 L230.0,219.4 L229.0,218.6 L228.0,217.8 L227.0,217.0 L226.0,216.2 L225.0,215.4 L224.0,214.5 L223.0,213.7 L222.0,212.8 L221.0,212.0 L220.0,211.1 L219.0,210.3 L218.0,209.4 L217.0,208.5 L216.0,207.7 L215.0,206.8 L214.0,205.9 L213.0,205.0 L212.0,204.1 L211.0,203.3 L210.0,202.4 L209.0,201.5 L208.0,200.6 L207.0,199.8 L206.0,198.9 L205.0,198.0 L204.0,197.2 L203.0,196.3 L202.0,195.5 L201.0,194.6 L200.0,193.8 L199.0,193.0 L198.0,192.2 L197.0,191.4 L196.0,190.6 L195.0,189.8 L194.0,189.0 L193.0,188.3 L192.0,187.5 L191.0,186.8 L190.0,186.1 L189.0,185.4 L188.0,184.7 L187.0,184.0 L186.0,183.3 L185.0,182.6 L184.0,181.9 L183.0,181.3 L182.0,180.6 L181.0,180.0 L180.0,179.3 L179.0,178.7 L178.0,178.0 L177.0,177.4 L176.0,176.8 L175.0,176.1 L174.0,175.5 L173.0,174.9 L172.0,174.2 L171.0,173.6 L170.0,173.0 L169.0,172.3 L168.0,171.7 L167.0,171.1 L166.0,170.5 L165.0,169.8 L164.0,169.2 L163.0,168.6 L162.0,168.0 L161.0,167.4 L160.0,166.8 L159.0,166.2 L158.0,165.6 L157.0,165.0 L156.0,164.4 L155.0,163.9 L154.0,163.4 L153.0,162.9 L152.0,162.4 L151.0,161.9 L150.0,161.4 L149.0,160.9 L148.0,160.4 L147.0,160.0 L146.0,159.5 L145.0,159.0 L144.0,158.6 L143.0,158.1 L142.0,157.7 L141.0,157.3 L140.0,156.8 L139.0,156.4 L138.0,155.9 L137.0,155.5 L136.0,155.1 L135.0,154.7 L134.0,154.2 L133.0,153.8 L132.0,153.4 L131.0,153.0 L130.0,152.6 L129.0,152.2 L128.0,151.8 L127.0,151.5 L126.0,151.1 L125.0,150.7 L124.0,150.3 L123.0,150.0 L122.0,149.6 L121.0,149.3 L120.0,148.9 L119.0,148.6 L118.0,148.3 L117.0,147.9 L116.0,147.6 L115.0,147.3 L114.0,147.0 L113.0,146.7 L112.0,146.4 L111.0,146.1 L110.0,145.8 L109.0,145.5 L108.0,145.2 L107.0,144.9 L106.0,144.6 L105.0,144.3 L104.0,144.1 L103.0,143.8 L102.0,143.5 L101.0,143.3 L100.0,143.0 L99.0,142.7 L98.0,142.5 L97.0,142.2 L96.0,142.0 L95.0,141.7 L94.0,141.5 L93.0,141.3 L92.0,141.0 L91.0,140.8 L90.0,140.6 L89.0,140.4 L88.0,140.1 L87.0,139.9 L86.0,139.7 L85.0,139.5 L84.0,139.3 L83.0,139.1 L82.0,138.9 L81.0,138.6 L80.0,138.4 L79.0,138.2Z" fill="#8080ff"/>
<line x1="79.3" x2="457.0" y1="113.5" y2="113.5" stroke="#444" stroke-width="0.9"/>
<path d="M79.3,91.1 L80.3,90.9 L81.3,90.6 L82.3,90.4 L83.3,90.1 L84.3,89.9 L85.3,89.6 L86.3,89.4 L87.3,89.1 L88.3,88.9 L89.3,88.6 L90.3,88.4 L91.3,88.1 L92.3,87.9 L93.3,87.6 L94.3,87.3 L95.3,87.1 L96.3,86.8 L97.3,86.6 L98.3,86.3 L99.3,86.1 L100.3,85.8 L101.3,85.6 L102.3,85.3 L103.3,85.0 L104.3,84.8 L105.3,84.5 L106.3,84.3 L107.3,84.0 L108.3,83.7 L109.3,83.5 L110.3,83.2 L111.3,82.9 L112.3,82.7 L113.3,82.4 L114.3,82.1 L115.3,81.9 L116.3,81.6 L117.3,81.3 L118.3,81.1 L119.3,80.8 L120.3,80.5 L121.3,80.2 L122.3,80.0 L123.3,79.7 L124.3,79.4 L125.3,79.1 L126.3,78.9 L127.3,78.6 L128.3,78.3 L129.3,78.0 L130.3,77.8 L131.3,77.5 L132.3,77.2 L133.3,77.0 L134.3,76.7 L135.3,76.4 L136.3,76.2 L137.3,75.9 L138.3,75.6 L139.3,75.4 L140.3,75.1 L141.3,74.8 L142.3,74.6 L143.3,74.3 L144.3,74.0 L145.3,73.7 L146.3,73.5 L147.3,73.2 L148.3,72.9 L149.3,72.6 L150.3,72.4 L151.3,72.1 L152.3,71.8 L153.3,71.5 L154.3,71.2 L155.3,70.9 L156.3,70.7 L157.3,70.4 L158.3,70.1 L159.3,69.8 L160.3,69.5 L161.3,69.2 L162.3,68.9 L163.3,68.7 L164.3,68.4 L165.3,68.1 L166.3,67.8 L167.3,67.5 L168.3,67.3 L169.3,67.0 L170.3,66.7 L171.3,66.5 L172.3,66.2 L173.3,65.9 L174.3,65.7 L175.3,65.4 L176.3,65.2 L177.3,64.9 L178.3,64.7 L179.3,64.5 L180.3,64.2 L181.3,64.0 L182.3,63.8 L183.3,63.6 L184.3,63.4 L185.3,63.2 L186.3,63.0 L187.3,62.8 L188.3,62.6 L189.3,62.4 L190.3,62.3 L191.3,62.1 L192.3,61.9 L193.3,61.8 L194.3,61.6 L195.3,61.5 L196.3,61.3 L197.3,61.2 L198.3,61.0 L199.3,60.9 L200.3,60.7 L201.3,60.6 L202.3,60.5 L203.3,60.3 L204.3,60.2 L205.3,60.1 L206.3,60.0 L207.3,59.8 L208.3,59.7 L209.3,59.6 L210.3,59.5 L211.3,59.4 L212.3,59.3 L213.3,59.2 L214.3,59.2 L215.3,59.1 L216.3,59.0 L217.3,58.9 L218.3,58.9 L219.3,58.8 L220.3,58.8 L221.3,58.7 L222.3,58.7 L223.3,58.7 L224.3,58.7 L225.3,58.7 L226.3,58.7 L227.3,58.7 L228.3,58.7 L229.3,58.7 L230.3,58.8 L231.3,58.8 L232.3,58.9 L233.3,58.9 L234.3,59.0 L235.3,59.1 L236.3,59.1 L237.3,59.2 L238.3,59.4 L239.3,59.5 L240.3,59.6 L241.3,59.7 L242.3,59.9 L243.3,60.0 L244.3,60.2 L245.3,60.4 L246.3,60.6 L247.3,60.8 L248.3,61.0 L249.3,61.2 L250.3,61.4 L251.3,61.7 L252.3,61.9 L253.3,62.2 L254.3,62.5 L255.3,62.7 L256.3,63.0 L257.3,63.4 L258.3,63.7 L259.3,64.0 L260.3,64.3 L261.3,64.7 L262.3,65.1 L263.3,65.4 L264.3,65.8 L265.3,66.2 L266.3,66.6 L267.3,67.0 L268.3,67.4 L269.3,67.8 L270.3,68.3 L271.3,68.7 L272.3,69.1 L273.3,69.6 L274.3,70.0 L275.3,70.5 L276.3,71.0 L277.3,71.4 L278.3,71.9 L279.3,72.4 L280.3,72.8 L281.3,73.3 L282.3,73.8 L283.3,74.3 L284.3,74.8 L285.3,75.3 L286.3,75.7 L287.3,76.2 L288.3,76.7 L289.3,77.2 L290.3,77.7 L291.3,78.1 L292.3,78.6 L293.3,79.1 L294.3,79.5 L295.3,80.0 L296.3,80.5 L297.3,80.9 L298.3,81.4 L299.3,81.9 L300.3,82.3 L301.3,82.8 L302.3,83.2 L303.3,83.7 L304.3,84.1 L305.3,84.6 L306.3,85.0 L307.3,85.5 L308.3,85.9 L309.3,86.3 L310.3,86.8 L311.3,87.2 L312.3,87.6 L313.3,88.0 L314.3,88.5 L315.3,88.9 L316.3,89.3 L317.3,89.7 L318.3,90.1 L319.3,90.5 L320.3,90.9 L321.3,91.2 L322.3,91.6 L323.3,92.0 L324.3,92.3 L325.3,92.7 L326.3,93.0 L327.3,93.4 L328.3,93.7 L329.3,94.0 L330.3,94.4 L331.3,94.7 L332.3,95.0 L333.3,95.3 L334.3,95.6 L335.3,95.9 L336.3,96.2 L337.3,96.5 L338.3,96.8 L339.3,97.1 L340.3,97.4 L341.3,97.7 L342.3,98.0 L343.3,98.2 L344.3,98.5 L345.3,98.8 L346.3,99.0 L347.3,99.3 L348.3,99.6 L349.3,99.8 L350.3,100.1 L351.3,100.3 L352.3,100.5 L353.3,100.8 L354.3,101.0 L355.3,101.2 L356.3,101.4 L357.3,101.7 L358.3,101.9 L359.3,102.1 L360.3,102.3 L361.3,102.5 L362.3,102.7 L363.3,102.9 L364.3,103.1 L365.3,103.3 L366.3,103.5 L367.3,103.7 L368.3,103.9 L369.3,104.0 L370.3,104.2 L371.3,104.4 L372.3,104.5 L373.3,104.7 L374.3,104.9 L375.3,105.0 L376.3,105.2 L377.3,105.3 L378.3,105.5 L379.3,105.6 L380.3,105.7 L381.3,105.9 L382.3,106.0 L383.3,106.1 L384.3,106.3 L385.3,106.4 L386.3,106.5 L387.3,106.6 L388.3,106.8 L389.3,106.9 L390.3,107.0 L391.3,107.1 L392.3,107.2 L393.3,107.3 L394.3,107.5 L395.3,107.6 L396.3,107.7 L397.3,107.8 L398.3,107.9 L399.3,108.0 L400.3,108.1 L401.3,108.2 L402.3,108.3 L403.3,108.4 L404.3,108.5 L405.3,108.6 L406.3,108.7 L407.3,108.8 L408.3,108.9 L409.3,109.0 L410.3,109.0 L411.3,109.1 L412.3,109.2 L413.3,109.3 L414.3,109.4 L415.3,109.4 L416.3,109.5 L417.3,109.6 L418.3,109.7 L419.3,109.7 L420.3,109.8 L421.3,109.9 L422.3,109.9 L423.3,110.0 L424.3,110.0 L425.3,110.1 L426.3,110.2 L427.3,110.2 L428.3,110.3 L429.3,110.3 L430.3,110.4 L431.3,110.5 L432.3,110.5 L433.3,110.6 L434.3,110.6 L435.3,110.7 L436.3,110.7 L437.3,110.8 L438.3,110.8 L439.3,110.9 L440.3,110.9 L441.3,111.0 L442.3,111.0 L443.3,111.1 L444.3,111.1 L445.3,111.2 L446.3,111.2 L447.3,111.2 L448.3,111.3 L449.3,111.3 L450.3,111.4 L451.3,111.4 L452.3,111.4 L453.3,111.5 L454.3,111.5 L455.3,111.6 L456.3,111.6 L457.0,111.6" fill="none" stroke="#000" stroke-width="1.7"/>
<path d="M79.3,139.5 L80.3,139.7 L81.3,139.9 L82.3,140.1 L83.3,140.3 L84.3,140.5 L85.3,140.8 L86.3,141.0 L87.3,141.2 L88.3,141.4 L89.3,141.6 L90.3,141.8 L91.3,142.1 L92.3,142.3 L93.3,142.5 L94.3,142.8 L95.3,143.0 L96.3,143.3 L97.3,143.5 L98.3,143.8 L99.3,144.0 L100.3,144.3 L101.3,144.5 L102.3,144.8 L103.3,145.1 L104.3,145.3 L105.3,145.6 L106.3,145.9 L107.3,146.2 L108.3,146.5 L109.3,146.8 L110.3,147.0 L111.3,147.3 L112.3,147.6 L113.3,148.0 L114.3,148.3 L115.3,148.6 L116.3,148.9 L117.3,149.2 L118.3,149.6 L119.3,149.9 L120.3,150.2 L121.3,150.6 L122.3,150.9 L123.3,151.3 L124.3,151.7 L125.3,152.0 L126.3,152.4 L127.3,152.8 L128.3,153.2 L129.3,153.6 L130.3,154.0 L131.3,154.4 L132.3,154.8 L133.3,155.2 L134.3,155.6 L135.3,156.1 L136.3,156.5 L137.3,156.9 L138.3,157.4 L139.3,157.8 L140.3,158.3 L141.3,158.7 L142.3,159.2 L143.3,159.7 L144.3,160.1 L145.3,160.6 L146.3,161.1 L147.3,161.6 L148.3,162.0 L149.3,162.5 L150.3,163.0 L151.3,163.5 L152.3,164.1 L153.3,164.6 L154.3,165.1 L155.3,165.7 L156.3,166.3 L157.3,166.8 L158.3,167.5 L159.3,168.1 L160.3,168.7 L161.3,169.3 L162.3,170.0 L163.3,170.7 L164.3,171.3 L165.3,172.0 L166.3,172.7 L167.3,173.4 L168.3,174.1 L169.3,174.8 L170.3,175.5 L171.3,176.3 L172.3,177.0 L173.3,177.7 L174.3,178.4 L175.3,179.2 L176.3,179.9 L177.3,180.7 L178.3,181.4 L179.3,182.1 L180.3,182.9 L181.3,183.6 L182.3,184.4 L183.3,185.1 L184.3,185.8 L185.3,186.6 L186.3,187.3 L187.3,188.0 L188.3,188.8 L189.3,189.5 L190.3,190.2 L191.3,191.0 L192.3,191.7 L193.3,192.5 L194.3,193.2 L195.3,194.0 L196.3,194.8 L197.3,195.5 L198.3,196.3 L199.3,197.1 L200.3,197.9 L201.3,198.7 L202.3,199.6 L203.3,200.4 L204.3,201.3 L205.3,202.2 L206.3,203.0 L207.3,204.0 L208.3,204.9 L209.3,205.8 L210.3,206.8 L211.3,207.7 L212.3,208.7 L213.3,209.7 L214.3,210.7 L215.3,211.7 L216.3,212.7 L217.3,213.8 L218.3,214.8 L219.3,215.8 L220.3,216.8 L221.3,217.9 L222.3,218.9 L223.3,219.9 L224.3,221.0 L225.3,222.0 L226.3,223.0 L227.3,224.0 L228.3,225.1 L229.3,226.1 L230.3,227.1 L231.3,228.1 L232.3,229.1 L233.3,230.1 L234.3,231.1 L235.3,232.0 L236.3,233.0 L237.3,234.0 L238.3,235.0 L239.3,235.9 L240.3,236.9 L241.3,237.9 L242.3,238.8 L243.3,239.8 L244.3,240.8 L245.3,241.7 L246.3,242.7 L247.3,243.7 L248.3,244.6 L249.3,245.6 L250.3,246.5 L251.3,247.5 L252.3,248.4 L253.3,249.3 L254.3,250.2 L255.3,251.1 L256.3,251.9 L257.3,252.8 L258.3,253.5 L259.3,254.3 L260.3,255.0 L261.3,255.7 L262.3,256.4 L263.3,257.0 L264.3,257.6 L265.3,258.2 L266.3,258.7 L267.3,259.2 L268.3,259.6 L269.3,260.0 L270.3,260.4 L271.3,260.7 L272.3,261.0 L273.3,261.2 L274.3,261.5 L275.3,261.7 L276.3,261.8 L277.3,262.0 L278.3,262.1 L279.3,262.1 L280.3,262.2 L281.3,262.2 L282.3,262.2 L283.3,262.1 L284.3,262.1 L285.3,262.0 L286.3,261.9 L287.3,261.7 L288.3,261.5 L289.3,261.3 L290.3,261.0 L291.3,260.8 L292.3,260.5 L293.3,260.1 L294.3,259.8 L295.3,259.4 L296.3,258.9 L297.3,258.5 L298.3,258.0 L299.3,257.5 L300.3,256.9 L301.3,256.3 L302.3,255.7 L303.3,255.1 L304.3,254.5 L305.3,253.8 L306.3,253.1 L307.3,252.4 L308.3,251.7 L309.3,250.9 L310.3,250.2 L311.3,249.4 L312.3,248.6 L313.3,247.8 L314.3,247.0 L315.3,246.2 L316.3,245.4 L317.3,244.5 L318.3,243.7 L319.3,242.8 L320.3,242.0 L321.3,241.1 L322.3,240.2 L323.3,239.3 L324.3,238.5 L325.3,237.6 L326.3,236.6 L327.3,235.7 L328.3,234.8 L329.3,233.9 L330.3,232.9 L331.3,232.0 L332.3,231.0 L333.3,230.0 L334.3,229.0 L335.3,228.0 L336.3,226.9 L337.3,225.9 L338.3,224.8 L339.3,223.8 L340.3,222.7 L341.3,221.6 L342.3,220.5 L343.3,219.4 L344.3,218.3 L345.3,217.2 L346.3,216.1 L347.3,215.0 L348.3,213.9 L349.3,212.8 L350.3,211.7 L351.3,210.6 L352.3,209.5 L353.3,208.4 L354.3,207.2 L355.3,206.1 L356.3,205.0 L357.3,203.9 L358.3,202.8 L359.3,201.8 L360.3,200.7 L361.3,199.6 L362.3,198.5 L363.3,197.4 L364.3,196.3 L365.3,195.2 L366.3,194.2 L367.3,193.1 L368.3,192.0 L369.3,191.0 L370.3,189.9 L371.3,188.9 L372.3,187.8 L373.3,186.8 L374.3,185.7 L375.3,184.7 L376.3,183.7 L377.3,182.6 L378.3,181.6 L379.3,180.6 L380.3,179.6 L381.3,178.6 L382.3,177.6 L383.3,176.7 L384.3,175.7 L385.3,174.8 L386.3,173.8 L387.3,172.9 L388.3,172.0 L389.3,171.1 L390.3,170.2 L391.3,169.3 L392.3,168.4 L393.3,167.6 L394.3,166.8 L395.3,165.9 L396.3,165.1 L397.3,164.3 L398.3,163.5 L399.3,162.7 L400.3,161.9 L401.3,161.1 L402.3,160.4 L403.3,159.6 L404.3,158.9 L405.3,158.1 L406.3,157.4 L407.3,156.6 L408.3,155.9 L409.3,155.2 L410.3,154.5 L411.3,153.8 L412.3,153.1 L413.3,152.3 L414.3,151.7 L415.3,151.0 L416.3,150.3 L417.3,149.6 L418.3,148.9 L419.3,148.3 L420.3,147.7 L421.3,147.0 L422.3,146.4 L423.3,145.8 L424.3,145.2 L425.3,144.6 L426.3,144.0 L427.3,143.5 L428.3,142.9 L429.3,142.4 L430.3,141.9 L431.3,141.4 L432.3,140.9 L433.3,140.4 L434.3,139.9 L435.3,139.4 L436.3,139.0 L437.3,138.6 L438.3,138.1 L439.3,137.7 L440.3,137.3 L441.3,137.0 L442.3,136.6 L443.3,136.2 L444.3,135.9 L445.3,135.5 L446.3,135.2 L447.3,134.9 L448.3,134.5 L449.3,134.2 L450.3,133.9 L451.3,133.6 L452.3,133.3 L453.3,133.0 L454.3,132.8 L455.3,132.5 L456.3,132.2 L457.0,132.0" fill="none" stroke="#000" stroke-width="1.7"/>
<path d="M79.3,98.9 L80.3,98.7 L81.3,98.6 L82.3,98.4 L83.3,98.3 L84.3,98.2 L85.3,98.0 L86.3,97.9 L87.3,97.7 L88.3,97.6 L89.3,97.4 L90.3,97.3 L91.3,97.1 L92.3,97.0 L93.3,96.8 L94.3,96.7 L95.3,96.5 L96.3,96.4 L97.3,96.2 L98.3,96.1 L99.3,95.9 L100.3,95.8 L101.3,95.6 L102.3,95.4 L103.3,95.3 L104.3,95.1 L105.3,95.0 L106.3,94.8 L107.3,94.6 L108.3,94.5 L109.3,94.3 L110.3,94.1 L111.3,94.0 L112.3,93.8 L113.3,93.6 L114.3,93.4 L115.3,93.3 L116.3,93.1 L117.3,92.9 L118.3,92.8 L119.3,92.6 L120.3,92.4 L121.3,92.2 L122.3,92.0 L123.3,91.9 L124.3,91.7 L125.3,91.5 L126.3,91.3 L127.3,91.1 L128.3,90.9 L129.3,90.8 L130.3,90.6 L131.3,90.4 L132.3,90.2 L133.3,90.0 L134.3,89.8 L135.3,89.6 L136.3,89.4 L137.3,89.2 L138.3,89.0 L139.3,88.8 L140.3,88.5 L141.3,88.3 L142.3,88.1 L143.3,87.9 L144.3,87.7 L145.3,87.5 L146.3,87.3 L147.3,87.1 L148.3,86.9 L149.3,86.6 L150.3,86.4 L151.3,86.2 L152.3,86.0 L153.3,85.8 L154.3,85.6 L155.3,85.4 L156.3,85.2 L157.3,85.0 L158.3,84.9 L159.3,84.7 L160.3,84.5 L161.3,84.3 L162.3,84.1 L163.3,83.9 L164.3,83.7 L165.3,83.6 L166.3,83.4 L167.3,83.2 L168.3,83.0 L169.3,82.8 L170.3,82.7 L171.3,82.5 L172.3,82.3 L173.3,82.2 L174.3,82.0 L175.3,81.8 L176.3,81.7 L177.3,81.5 L178.3,81.3 L179.3,81.2 L180.3,81.0 L181.3,80.9 L182.3,80.7 L183.3,80.6 L184.3,80.4 L185.3,80.3 L186.3,80.1 L187.3,80.0 L188.3,79.8 L189.3,79.7 L190.3,79.5 L191.3,79.4 L192.3,79.3 L193.3,79.1 L194.3,79.0 L195.3,78.9 L196.3,78.8 L197.3,78.6 L198.3,78.5 L199.3,78.4 L200.3,78.3 L201.3,78.2 L202.3,78.1 L203.3,78.0 L204.3,77.9 L205.3,77.8 L206.3,77.7 L207.3,77.6 L208.3,77.5 L209.3,77.5 L210.3,77.4 L211.3,77.3 L212.3,77.2 L213.3,77.2 L214.3,77.1 L215.3,77.1 L216.3,77.1 L217.3,77.0 L218.3,77.0 L219.3,77.0 L220.3,77.0 L221.3,77.0 L222.3,77.0 L223.3,77.0 L224.3,77.0 L225.3,77.0 L226.3,77.0 L227.3,77.1 L228.3,77.1 L229.3,77.2 L230.3,77.2 L231.3,77.3 L232.3,77.4 L233.3,77.5 L234.3,77.5 L235.3,77.6 L236.3,77.7 L237.3,77.8 L238.3,77.9 L239.3,78.1 L240.3,78.2 L241.3,78.3 L242.3,78.4 L243.3,78.6 L244.3,78.7 L245.3,78.9 L246.3,79.0 L247.3,79.2 L248.3,79.4 L249.3,79.5 L250.3,79.7 L251.3,79.9 L252.3,80.1 L253.3,80.3 L254.3,80.4 L255.3,80.6 L256.3,80.8 L257.3,81.1 L258.3,81.3 L259.3,81.5 L260.3,81.7 L261.3,81.9 L262.3,82.2 L263.3,82.4 L264.3,82.6 L265.3,82.9 L266.3,83.2 L267.3,83.4 L268.3,83.7 L269.3,84.0 L270.3,84.3 L271.3,84.5 L272.3,84.9 L273.3,85.2 L274.3,85.5 L275.3,85.8 L276.3,86.1 L277.3,86.5 L278.3,86.8 L279.3,87.1 L280.3,87.5 L281.3,87.8 L282.3,88.2 L283.3,88.5 L284.3,88.9 L285.3,89.3 L286.3,89.6 L287.3,90.0 L288.3,90.3 L289.3,90.7 L290.3,91.1 L291.3,91.4 L292.3,91.8 L293.3,92.1 L294.3,92.5 L295.3,92.8 L296.3,93.2 L297.3,93.5 L298.3,93.9 L299.3,94.2 L300.3,94.6 L301.3,94.9 L302.3,95.2 L303.3,95.5 L304.3,95.9 L305.3,96.2 L306.3,96.5 L307.3,96.8 L308.3,97.1 L309.3,97.4 L310.3,97.7 L311.3,98.0 L312.3,98.2 L313.3,98.5 L314.3,98.8 L315.3,99.1 L316.3,99.3 L317.3,99.6 L318.3,99.8 L319.3,100.1 L320.3,100.3 L321.3,100.6 L322.3,100.8 L323.3,101.1 L324.3,101.3 L325.3,101.5 L326.3,101.8 L327.3,102.0 L328.3,102.2 L329.3,102.4 L330.3,102.6 L331.3,102.8 L332.3,103.0 L333.3,103.2 L334.3,103.4 L335.3,103.6 L336.3,103.8 L337.3,104.0 L338.3,104.2 L339.3,104.4 L340.3,104.5 L341.3,104.7 L342.3,104.9 L343.3,105.0 L344.3,105.2 L345.3,105.4 L346.3,105.5 L347.3,105.6 L348.3,105.8 L349.3,105.9 L350.3,106.1 L351.3,106.2 L352.3,106.3 L353.3,106.5 L354.3,106.6 L355.3,106.7 L356.3,106.8 L357.3,106.9 L358.3,107.0 L359.3,107.2 L360.3,107.3 L361.3,107.4 L362.3,107.5 L363.3,107.6 L364.3,107.7 L365.3,107.8 L366.3,107.8 L367.3,107.9 L368.3,108.0 L369.3,108.1 L370.3,108.2 L371.3,108.3 L372.3,108.3 L373.3,108.4 L374.3,108.5 L375.3,108.6 L376.3,108.6 L377.3,108.7 L378.3,108.8 L379.3,108.8 L380.3,108.9 L381.3,108.9 L382.3,109.0 L383.3,109.1 L384.3,109.1 L385.3,109.2 L386.3,109.2 L387.3,109.3 L388.3,109.3 L389.3,109.4 L390.3,109.5 L391.3,109.5 L392.3,109.6 L393.3,109.6 L394.3,109.7 L395.3,109.7 L396.3,109.8 L397.3,109.8 L398.3,109.9 L399.3,110.0 L400.3,110.0 L401.3,110.1 L402.3,110.1 L403.3,110.2 L404.3,110.2 L405.3,110.3 L406.3,110.3 L407.3,110.4 L408.3,110.4 L409.3,110.5 L410.3,110.5 L411.3,110.6 L412.3,110.7 L413.3,110.7 L414.3,110.8 L415.3,110.8 L416.3,110.9 L417.3,110.9 L418.3,111.0 L419.3,111.0 L420.3,111.1 L421.3,111.1 L422.3,111.2 L423.3,111.2 L424.3,111.3 L425.3,111.3 L426.3,111.4 L427.3,111.4 L428.3,111.5 L429.3,111.5 L430.3,111.5 L431.3,111.6 L432.3,111.6 L433.3,111.7 L434.3,111.7 L435.3,111.8 L436.3,111.8 L437.3,111.8 L438.3,111.9 L439.3,111.9 L440.3,112.0 L441.3,112.0 L442.3,112.0 L443.3,112.1 L444.3,112.1 L445.3,112.1 L446.3,112.2 L447.3,112.2 L448.3,112.2 L449.3,112.3 L450.3,112.3 L451.3,112.3 L452.3,112.4 L453.3,112.4 L454.3,112.4 L455.3,112.5 L456.3,112.5 L457.0,112.5" fill="none" stroke="#000" stroke-width="1.7" stroke-dasharray="1.7,1.66"/>
<path d="M79.3,132.2 L80.3,132.4 L81.3,132.6 L82.3,132.7 L83.3,132.9 L84.3,133.1 L85.3,133.3 L86.3,133.5 L87.3,133.7 L88.3,133.9 L89.3,134.1 L90.3,134.3 L91.3,134.5 L92.3,134.7 L93.3,134.9 L94.3,135.1 L95.3,135.3 L96.3,135.5 L97.3,135.8 L98.3,136.0 L99.3,136.2 L100.3,136.5 L101.3,136.7 L102.3,137.0 L103.3,137.2 L104.3,137.5 L105.3,137.7 L106.3,138.0 L107.3,138.3 L108.3,138.5 L109.3,138.8 L110.3,139.1 L111.3,139.4 L112.3,139.7 L113.3,140.0 L114.3,140.3 L115.3,140.7 L116.3,141.0 L117.3,141.3 L118.3,141.7 L119.3,142.0 L120.3,142.4 L121.3,142.7 L122.3,143.1 L123.3,143.5 L124.3,143.9 L125.3,144.3 L126.3,144.6 L127.3,145.1 L128.3,145.5 L129.3,145.9 L130.3,146.3 L131.3,146.7 L132.3,147.2 L133.3,147.6 L134.3,148.1 L135.3,148.5 L136.3,149.0 L137.3,149.5 L138.3,150.0 L139.3,150.5 L140.3,151.0 L141.3,151.5 L142.3,152.0 L143.3,152.6 L144.3,153.1 L145.3,153.7 L146.3,154.2 L147.3,154.8 L148.3,155.4 L149.3,155.9 L150.3,156.5 L151.3,157.1 L152.3,157.7 L153.3,158.3 L154.3,158.9 L155.3,159.5 L156.3,160.2 L157.3,160.8 L158.3,161.5 L159.3,162.2 L160.3,162.9 L161.3,163.6 L162.3,164.3 L163.3,165.1 L164.3,165.8 L165.3,166.6 L166.3,167.3 L167.3,168.0 L168.3,168.8 L169.3,169.5 L170.3,170.2 L171.3,171.0 L172.3,171.7 L173.3,172.5 L174.3,173.2 L175.3,173.9 L176.3,174.7 L177.3,175.4 L178.3,176.2 L179.3,176.9 L180.3,177.7 L181.3,178.4 L182.3,179.2 L183.3,179.9 L184.3,180.7 L185.3,181.5 L186.3,182.3 L187.3,183.0 L188.3,183.8 L189.3,184.6 L190.3,185.4 L191.3,186.2 L192.3,187.1 L193.3,187.9 L194.3,188.7 L195.3,189.5 L196.3,190.4 L197.3,191.2 L198.3,192.1 L199.3,192.9 L200.3,193.8 L201.3,194.7 L202.3,195.5 L203.3,196.4 L204.3,197.3 L205.3,198.2 L206.3,199.1 L207.3,200.0 L208.3,200.8 L209.3,201.7 L210.3,202.6 L211.3,203.5 L212.3,204.3 L213.3,205.2 L214.3,206.1 L215.3,207.0 L216.3,207.8 L217.3,208.7 L218.3,209.5 L219.3,210.4 L220.3,211.2 L221.3,212.0 L222.3,212.9 L223.3,213.7 L224.3,214.5 L225.3,215.4 L226.3,216.2 L227.3,217.0 L228.3,217.8 L229.3,218.6 L230.3,219.4 L231.3,220.2 L232.3,220.9 L233.3,221.7 L234.3,222.5 L235.3,223.2 L236.3,224.0 L237.3,224.7 L238.3,225.4 L239.3,226.1 L240.3,226.8 L241.3,227.5 L242.3,228.1 L243.3,228.7 L244.3,229.3 L245.3,229.9 L246.3,230.5 L247.3,231.0 L248.3,231.5 L249.3,232.0 L250.3,232.4 L251.3,232.9 L252.3,233.3 L253.3,233.7 L254.3,234.0 L255.3,234.3 L256.3,234.7 L257.3,234.9 L258.3,235.2 L259.3,235.4 L260.3,235.6 L261.3,235.8 L262.3,236.0 L263.3,236.1 L264.3,236.2 L265.3,236.2 L266.3,236.3 L267.3,236.3 L268.3,236.3 L269.3,236.2 L270.3,236.1 L271.3,236.0 L272.3,235.9 L273.3,235.8 L274.3,235.6 L275.3,235.4 L276.3,235.2 L277.3,234.9 L278.3,234.6 L279.3,234.3 L280.3,234.0 L281.3,233.6 L282.3,233.3 L283.3,232.9 L284.3,232.4 L285.3,232.0 L286.3,231.5 L287.3,231.0 L288.3,230.5 L289.3,229.9 L290.3,229.4 L291.3,228.8 L292.3,228.2 L293.3,227.5 L294.3,226.9 L295.3,226.2 L296.3,225.5 L297.3,224.8 L298.3,224.1 L299.3,223.3 L300.3,222.6 L301.3,221.8 L302.3,221.0 L303.3,220.3 L304.3,219.5 L305.3,218.7 L306.3,217.8 L307.3,217.0 L308.3,216.1 L309.3,215.3 L310.3,214.4 L311.3,213.5 L312.3,212.6 L313.3,211.6 L314.3,210.7 L315.3,209.7 L316.3,208.8 L317.3,207.8 L318.3,206.8 L319.3,205.9 L320.3,204.9 L321.3,203.9 L322.3,203.0 L323.3,202.0 L324.3,201.1 L325.3,200.1 L326.3,199.2 L327.3,198.2 L328.3,197.3 L329.3,196.3 L330.3,195.4 L331.3,194.5 L332.3,193.5 L333.3,192.6 L334.3,191.7 L335.3,190.7 L336.3,189.8 L337.3,188.9 L338.3,188.0 L339.3,187.0 L340.3,186.1 L341.3,185.2 L342.3,184.3 L343.3,183.4 L344.3,182.5 L345.3,181.5 L346.3,180.6 L347.3,179.7 L348.3,178.9 L349.3,178.0 L350.3,177.1 L351.3,176.2 L352.3,175.4 L353.3,174.6 L354.3,173.7 L355.3,172.9 L356.3,172.1 L357.3,171.3 L358.3,170.5 L359.3,169.8 L360.3,169.0 L361.3,168.2 L362.3,167.5 L363.3,166.8 L364.3,166.0 L365.3,165.3 L366.3,164.6 L367.3,163.9 L368.3,163.2 L369.3,162.5 L370.3,161.8 L371.3,161.1 L372.3,160.4 L373.3,159.8 L374.3,159.1 L375.3,158.4 L376.3,157.8 L377.3,157.1 L378.3,156.5 L379.3,155.8 L380.3,155.2 L381.3,154.5 L382.3,153.9 L383.3,153.3 L384.3,152.7 L385.3,152.0 L386.3,151.4 L387.3,150.8 L388.3,150.2 L389.3,149.6 L390.3,149.0 L391.3,148.4 L392.3,147.8 L393.3,147.2 L394.3,146.6 L395.3,146.0 L396.3,145.4 L397.3,144.9 L398.3,144.3 L399.3,143.8 L400.3,143.2 L401.3,142.7 L402.3,142.2 L403.3,141.7 L404.3,141.1 L405.3,140.7 L406.3,140.2 L407.3,139.7 L408.3,139.2 L409.3,138.8 L410.3,138.3 L411.3,137.9 L412.3,137.4 L413.3,137.0 L414.3,136.6 L415.3,136.2 L416.3,135.7 L417.3,135.3 L418.3,134.9 L419.3,134.6 L420.3,134.2 L421.3,133.8 L422.3,133.4 L423.3,133.1 L424.3,132.7 L425.3,132.4 L426.3,132.0 L427.3,131.7 L428.3,131.3 L429.3,131.0 L430.3,130.7 L431.3,130.4 L432.3,130.1 L433.3,129.8 L434.3,129.5 L435.3,129.2 L436.3,128.9 L437.3,128.7 L438.3,128.4 L439.3,128.1 L440.3,127.9 L441.3,127.6 L442.3,127.3 L443.3,127.1 L444.3,126.9 L445.3,126.6 L446.3,126.4 L447.3,126.1 L448.3,125.9 L449.3,125.7 L450.3,125.5 L451.3,125.2 L452.3,125.0 L453.3,124.8 L454.3,124.6 L455.3,124.4 L456.3,124.2 L457.0,124.0" fill="none" stroke="#000" stroke-width="1.7" stroke-dasharray="1.7,1.66"/>
<path d="M79.3,5.20h4.5M457.0,5.20h-4.5M79.3,41.33h4.5M457.0,41.33h-4.5M79.3,77.45h4.5M457.0,77.45h-4.5M79.3,113.58h4.5M457.0,113.58h-4.5M79.3,149.70h4.5M457.0,149.70h-4.5M79.3,185.82h4.5M457.0,185.82h-4.5M79.3,221.95h4.5M457.0,221.95h-4.5M79.3,258.07h4.5M457.0,258.07h-4.5M79.3,294.20h4.5M457.0,294.20h-4.5M79.30,294.2v-5M79.30,5.2v5M117.20,294.2v-2.5M117.20,5.2v2.5M139.37,294.2v-2.5M139.37,5.2v2.5M155.10,294.2v-2.5M155.10,5.2v2.5M167.30,294.2v-2.5M167.30,5.2v2.5M177.27,294.2v-2.5M177.27,5.2v2.5M185.70,294.2v-2.5M185.70,5.2v2.5M193.00,294.2v-2.5M193.00,5.2v2.5M199.44,294.2v-2.5M199.44,5.2v2.5M205.20,294.2v-5M205.20,5.2v5M243.10,294.2v-2.5M243.10,5.2v2.5M265.27,294.2v-2.5M265.27,5.2v2.5M281.00,294.2v-2.5M281.00,5.2v2.5M293.20,294.2v-2.5M293.20,5.2v2.5M303.17,294.2v-2.5M303.17,5.2v2.5M311.60,294.2v-2.5M311.60,5.2v2.5M318.90,294.2v-2.5M318.90,5.2v2.5M325.34,294.2v-2.5M325.34,5.2v2.5M331.10,294.2v-5M331.10,5.2v5M369.00,294.2v-2.5M369.00,5.2v2.5M391.17,294.2v-2.5M391.17,5.2v2.5M406.90,294.2v-2.5M406.90,5.2v2.5M419.10,294.2v-2.5M419.10,5.2v2.5M429.07,294.2v-2.5M429.07,5.2v2.5M437.50,294.2v-2.5M437.50,5.2v2.5M444.80,294.2v-2.5M444.80,5.2v2.5M451.24,294.2v-2.5M451.24,5.2v2.5M457.00,294.2v-5M457.00,5.2v5" stroke="#000" stroke-width="1" fill="none"/>
<rect x="79.3" y="5.2" width="377.7" height="289.0" fill="none" stroke="#000" stroke-width="1.3"/>
<text x="70.5" y="10.2" text-anchor="end">1.5 %</text>
<text x="70.5" y="46.3" text-anchor="end">1 %</text>
<text x="70.5" y="82.5" text-anchor="end">0.5 %</text>
<text x="70.5" y="118.6" text-anchor="end">0 %</text>
<text x="70.5" y="154.7" text-anchor="end">-0.5 %</text>
<text x="70.5" y="190.8" text-anchor="end">-1 %</text>
<text x="70.5" y="226.9" text-anchor="end">-1.5 %</text>
<text x="70.5" y="263.1" text-anchor="end">-2 %</text>
<text x="70.5" y="299.2" text-anchor="end">-2.5 %</text>
<text x="80.3" y="312.5" text-anchor="middle">0.1</text>
<text x="206.2" y="312.5" text-anchor="middle">1</text>
<text x="333.3" y="312.5" text-anchor="middle">10</text>
<text x="460.2" y="312.5" text-anchor="middle">100</text>
<text x="268" y="332.8" text-anchor="middle">CO J = 3-2 Optical Depth</text>
<text transform="translate(10.3,150.7) rotate(-90)" text-anchor="middle">Polarization Percentage</text>
<text y="38.9"><tspan x="101.5">B</tspan> <tspan x="113.4" stroke="none" font-family="'DejaVu Sans', sans-serif" font-size="13">⊥</tspan> <tspan x="127.8" font-family="'DejaVu Serif', serif" font-size="13.5">∇</tspan><tspan x="137">V</tspan></text>
<text x="101.5" y="241">B</text>
<text transform="translate(112.1,241.1) scale(1.5,1)" class="par" fill="#1a1a1a" font-family="'DejaVu Sans', sans-serif" font-size="11.6">∥</text>
<text y="241"><tspan x="124" font-family="'DejaVu Serif', serif" font-size="13.5">∇</tspan><tspan x="133">V</tspan></text>
<text x="389.7" y="38.8" text-anchor="end">CO 3-2</text>
<text x="389.7" y="59.4" text-anchor="end">CO 2-1</text>
<rect x="398.4" y="28.5" width="37.8" height="10.8" fill="#ff8080"/>
<line x1="398.4" x2="436.2" y1="33.9" y2="33.9" stroke="#000" stroke-width="1.6"/>
<rect x="398.4" y="49.2" width="37.8" height="10.8" fill="#8080ff"/>
<line x1="398.4" x2="436.2" y1="54.6" y2="54.6" stroke="#000" stroke-width="1.7" stroke-dasharray="1.7,1.66"/>
</svg>
</body></html>
